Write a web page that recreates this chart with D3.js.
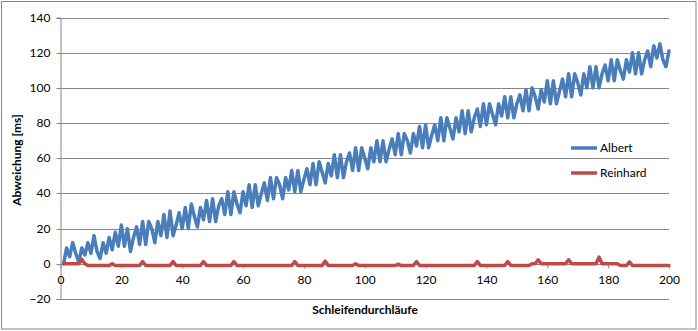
<!DOCTYPE html>
<html><head><meta charset="utf-8">
<script src="https://cdn.jsdelivr.net/npm/d3@7/dist/d3.min.js"></script>
<style>
html,body{margin:0;padding:0;background:#fff;}
svg{display:block;}
text{font-family:Lato,"Open Sans",sans-serif;fill:#000;}
</style></head>
<body>
<script>
// ---- data ----
const xValues = d3.range(1, 201); // loop iterations 1..200 (index labels)
const albert = [
 0, 9, 4, 12, 6, 1, 9, 5, 12, 6,
 16, 7, 3, 12, 6, 15, 8, 18, 10, 22,
 10, 20, 7, 15, 21, 11, 24, 11, 24, 20,
 12, 24, 16, 28, 15, 30, 16, 22, 29, 20,
 32, 20, 34, 27, 21, 32, 25, 36, 24, 37,
 24, 33, 37, 28, 41, 28, 41, 34, 29, 41,
 33, 45, 32, 45, 33, 40, 46, 36, 49, 37,
 49, 45, 37, 49, 42, 53, 41, 53, 41, 48,
 54, 45, 57, 45, 58, 52, 46, 57, 50, 62,
 49, 62, 49, 58, 63, 53, 66, 53, 66, 60,
 54, 66, 58, 70, 58, 70, 58, 65, 71, 62,
 74, 62, 74, 70, 63, 74, 67, 78, 66, 79,
 66, 73, 79, 70, 83, 70, 83, 77, 71, 83,
 75, 87, 74, 87, 75, 83, 88, 78, 91, 79,
 91, 85, 79, 91, 84, 95, 83, 95, 83, 91,
 96, 87, 99, 87, 100, 95, 88, 99, 92, 104,
 91, 104, 91, 98, 105, 95, 108, 95, 108, 103,
 96, 108, 100, 112, 100, 112, 100, 108, 113, 104,
 116, 104, 116, 110, 105, 116, 109, 120, 108, 120,
 108, 116, 121, 112, 124, 117, 125, 116, 112, 121
];
const reinhard = [
 0, 0, 0, 0, 0, 0, 2.5, 0, -1, -1,
 -1, -1, -1, -1, -1, -1, 0, -1, -1, -1,
 -1, -1, -1, -1, -1, -1, 1.3, -1, -1, -1,
 -1, -1, -1, -1, -1, -1, 1.3, -1, -1, -1,
 -1, -1, -1, -1, -1, -1, 1.3, -1, -1, -1,
 -1, -1, -1, -1, -1, -1, 1.3, -1, -1, -1,
 -1, -1, -1, -1, -1, -1, -1, -1, -1, -1,
 -1, -1, -1, -1, -1, -1, 1.3, -1, -1, -1,
 -1, -1, -1, -1, -1, -1, 1.5, -1, -1, -1,
 -1, -1, -1, -1, -1, -1, 0, -1, -1, -1,
 -1, -1, -1, -1, -1, -1, -1, -1, -1, -1,
 -0.2, -1, -1, -1, -1, -1, 1.3, -1, -1, -1,
 -1, -1, -1, -1, -1, -1, -1, -1, -1, -1,
 -1, -1, -1, -1, -1, -1, 1.3, -1, -1, -1,
 -1, -1, -1, -1, -1, -1, 1.3, -1, -1, -1,
 -1, -1, -1, -1, 0, 0, 2.3, 0, 0, 0,
 0, 0, 0, 0, 0, 0, 2.3, 0, 0, 0,
 0, 0, 0, 0, 0, 0, 3.8, 0, 0, 0,
 0, 0, 0, -1, -1, -1, 1.1, -1, -1, -1,
 -1, -1, -1, -1, -1, -1, -1, -1, -1, -1
];
const seriesNames = ["Albert", "Reinhard"];
const seriesColors = ["#4A7EBB", "#BE4B48"];
const xTicks = [0, 20, 40, 60, 80, 100, 120, 140, 160, 180, 200];
const yTicks = [-20, 0, 20, 40, 60, 80, 100, 120, 140];
const xTitle = "Schleifendurchläufe";
const yTitle = "Abweichung [ms]";

// ---- chart ----
const W = 698, H = 331;
const svg = d3.select("body").append("svg").attr("width", W).attr("height", H);

svg.append("rect").attr("x", 1.5).attr("y", 1.5).attr("width", 694.5).attr("height", 327.5)
  .attr("fill", "#fff").attr("stroke", "#868686").attr("stroke-width", 1);

const x = d3.scaleLinear().domain([0, 200]).range([60.5, 669]);
const y = d3.scaleLinear().domain([-20, 140]).range([299, 17.5]);
const grid = "#868686";

// gridlines
svg.append("g").selectAll("line").data(yTicks).join("line")
  .attr("x1", x(0)).attr("x2", x(200))
  .attr("y1", d => Math.round(y(d)) + 0.5).attr("y2", d => Math.round(y(d)) + 0.5)
  .attr("stroke", grid).attr("stroke-width", 1);

// y axis
const yAxis = d3.axisLeft(y).tickValues(yTicks).tickSize(4).tickPadding(6);
const gy = svg.append("g").attr("transform", `translate(${x(0)},0)`).call(yAxis);
gy.select(".domain").attr("stroke", grid);
gy.selectAll(".tick line").attr("stroke", grid);
gy.selectAll(".tick text").attr("font-family", "Lato").attr("font-size", 12).attr("fill", "#000");
gy.selectAll(".tick").attr("transform", d => `translate(0,${Math.round(y(d)) + 0.5})`);

// x axis at y=0
const xAxis = d3.axisBottom(x).tickValues(xTicks).tickSize(4).tickPadding(7);
const gx = svg.append("g").attr("transform", `translate(0,${Math.round(y(0)) + 0.5})`).call(xAxis);
gx.select(".domain").attr("stroke", grid).attr("d", `M${x(0)},0H${x(200)}`);
gx.selectAll(".tick line").attr("stroke", grid);
gx.selectAll(".tick text").attr("font-family", "Lato").attr("font-size", 12).attr("fill", "#000");

// lines
const line = d3.line().x((d, i) => x(xValues[i])).y(d => y(d));
[albert, reinhard].forEach((data, k) => {
  svg.append("path").datum(data).attr("d", line)
    .attr("fill", "none").attr("stroke", seriesColors[k])
    .attr("stroke-width", 3.5).attr("stroke-linejoin", "round").attr("stroke-linecap", "round");
});

// legend
const legY = [148, 173];
seriesNames.forEach((n, k) => {
  svg.append("line").attr("x1", 571).attr("x2", 597).attr("y1", legY[k]).attr("y2", legY[k])
    .attr("stroke", seriesColors[k]).attr("stroke-width", 3.5);
  svg.append("text").attr("x", 600).attr("y", legY[k]).attr("dy", "0.35em")
    .attr("font-size", 12).text(n);
});

// axis titles
svg.append("text").attr("x", 365).attr("y", 314).attr("text-anchor", "middle")
  .attr("font-weight", "bold").attr("font-size", 12).text(xTitle);
svg.append("text").attr("transform", "translate(21,160) rotate(-90)").attr("text-anchor", "middle")
  .attr("font-weight", "bold").attr("font-size", 12).text(yTitle);
</script>
</body></html>
